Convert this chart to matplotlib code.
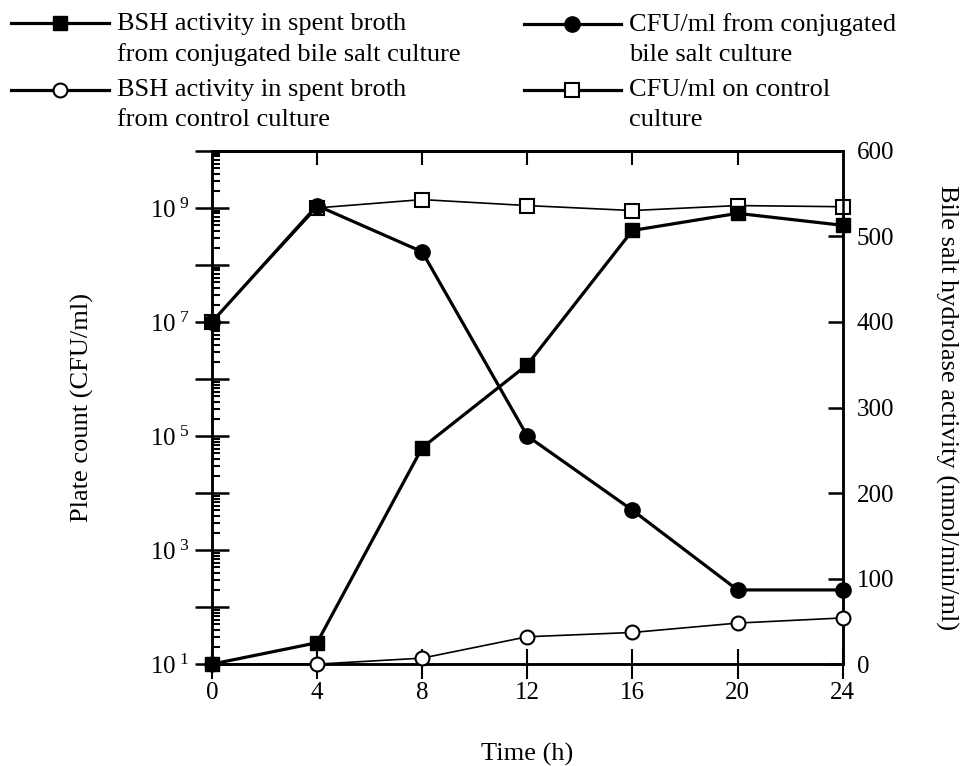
import math

import matplotlib
matplotlib.use("Agg")
import matplotlib.pyplot as plt
from matplotlib.lines import Line2D
from matplotlib.ticker import FixedLocator, FuncFormatter, LogLocator, NullFormatter

plt.rcParams["font.family"] = ["Liberation Serif", "DejaVu Serif"]
plt.rcParams["mathtext.fontset"] = "custom"
plt.rcParams["mathtext.rm"] = "Liberation Serif"
plt.rcParams["mathtext.it"] = "Liberation Serif"

# data
time_h = [0, 4, 8, 12, 16, 20, 24]
bsh_conj = [0, 25, 253, 350, 507, 527, 513]        # nmol/min/ml, right axis
bsh_ctrl = [0, 0, 7, 32, 37, 48, 54]              # nmol/min/ml, right axis
cfu_conj = [1e7, 1.1e9, 1.7e8, 1e5, 5e3, 200, 200]  # CFU/ml, left axis
cfu_ctrl = [1e7, 1e9, 1.4e9, 1.1e9, 9e8, 1.1e9, 1.05e9]

x_ticks = [0, 4, 8, 12, 16, 20, 24]
right_ticks = [0, 100, 200, 300, 400, 500, 600]
decades = [1, 2, 3, 4, 5, 6, 7, 8, 9, 10]

lab_bsh_conj = "BSH activity in spent broth\nfrom conjugated bile salt culture"
lab_bsh_ctrl = "BSH activity in spent broth\nfrom control culture"
lab_cfu_conj = "CFU/ml from conjugated\nbile salt culture"
lab_cfu_ctrl = "CFU/ml on control\nculture"

FS = 19     # legend / axis labels
TFS = 18    # tick labels

fig = plt.figure(figsize=(9.72, 7.66), dpi=100)
ax = fig.add_axes([0.218, 0.133, 0.649, 0.670])
ax2 = ax.twinx()

thick = 2.3
thin = 1.2

ax.plot(time_h, cfu_ctrl, "-s", color="black", lw=thin, ms=10, mfc="white",
        mec="black", mew=1.5, clip_on=False, zorder=3)
ax.plot(time_h, cfu_conj, "-o", color="black", lw=thick, ms=11, mfc="black",
        clip_on=False, zorder=4)
ax2.plot(time_h, bsh_ctrl, "-o", color="black", lw=thin, ms=10, mfc="white",
         mec="black", mew=1.5, clip_on=False, zorder=3)
ax2.plot(time_h, bsh_conj, "-s", color="black", lw=thick, ms=10, mfc="black",
         clip_on=False, zorder=4)

ax.set_yscale("log")
ax.set_ylim(10 ** decades[0], 10 ** decades[-1])
ax.set_xlim(0, 24)
ax2.set_ylim(0, 600)


def decade_label(v, pos):
    e = round(math.log10(v))
    if e % 2 == 1 and e < decades[-1]:
        return r"$10^{\ %d}$" % e
    return ""


ax.yaxis.set_major_locator(FixedLocator([10.0 ** d for d in decades]))
ax.yaxis.set_major_formatter(FuncFormatter(decade_label))
ax.yaxis.set_minor_locator(LogLocator(base=10, subs=range(2, 10), numticks=20))
ax.yaxis.set_minor_formatter(NullFormatter())

ax.set_xticks(x_ticks)
ax2.set_yticks(right_ticks)

for a in (ax, ax2):
    for s in a.spines.values():
        s.set_linewidth(1.8)

ax.tick_params(axis="y", which="major", direction="inout", length=24, width=1.8,
               labelsize=TFS, pad=4)
ax.tick_params(axis="y", which="minor", direction="in", length=6, width=1.5)
ax.tick_params(axis="x", which="major", direction="inout", length=22, width=1.5,
               labelsize=TFS, top=False, pad=2)
ax2.tick_params(axis="y", direction="in", length=11, width=1.8, labelsize=TFS, pad=10)

# top ticks point inward only
top = ax.secondary_xaxis("top")
top.set_xticks(x_ticks[1:-1])
top.tick_params(direction="in", length=10, width=1.5, labeltop=False)
top.spines["top"].set_linewidth(1.8)

ax.set_xlabel("Time (h)", fontsize=FS, labelpad=28)
ax.set_ylabel("Plate count (CFU/ml)", fontsize=FS, labelpad=40)
ax2.set_ylabel("Bile salt hydrolase activity (nmol/min/ml)", fontsize=FS,
               rotation=270, labelpad=46)

handles = [
    Line2D([], [], color="black", lw=thick, marker="s", ms=10, mfc="black"),
    Line2D([], [], color="black", lw=thick, marker="o", ms=10, mfc="white", mew=1.5),
    Line2D([], [], color="black", lw=thick, marker="o", ms=11, mfc="black"),
    Line2D([], [], color="black", lw=thick, marker="s", ms=10, mfc="white", mew=1.5),
]
labels = [lab_bsh_conj, lab_bsh_ctrl, lab_cfu_conj, lab_cfu_ctrl]
leg = fig.legend(handles, labels, loc="upper left", bbox_to_anchor=(-0.013, 1.014),
                 ncol=2, frameon=False, fontsize=FS, handlelength=3.7,
                 handletextpad=0.3, columnspacing=2.4, labelspacing=0.5,
                 handleheight=1.0)
for t in leg.get_texts():
    t.set_linespacing(1.45)
for col in leg._legend_handle_box.get_children():
    for item in col.get_children():
        item.align = "top"

fig.savefig("out.png", dpi=100)
